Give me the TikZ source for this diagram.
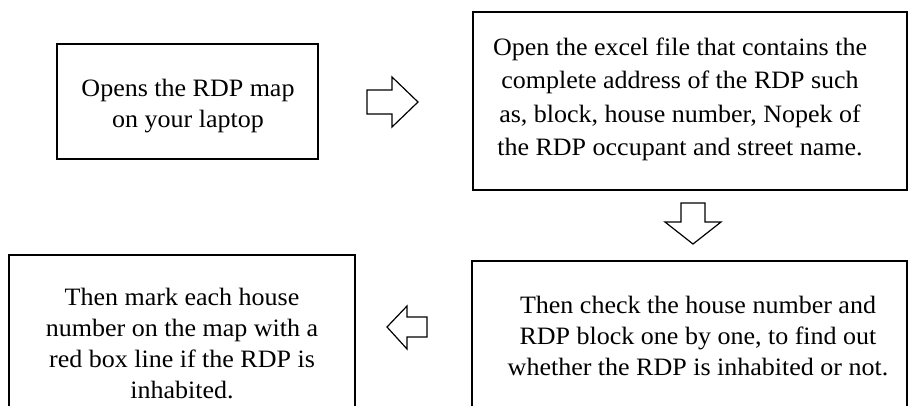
\documentclass[tikz,border=0pt]{standalone}
\usepackage{fontspec}
\setmainfont{Liberation Serif}[FakeStretch=1.04]
\begin{document}
\begin{tikzpicture}[x=1pt,y=-1pt,
  box/.style={draw,line width=1.3pt,inner sep=0pt,outer sep=0pt},
  txt/.style={align=center,inner sep=0pt,font=\fontsize{25}{31}\selectfont},
  blockarrow/.style={draw,line width=1.2pt,fill=white,line join=miter}]
\useasboundingbox (0,0) rectangle (909,405);
\clip (0,0) rectangle (909,405);
% boxes
\node[box,minimum width=261pt,minimum height=115pt] (b1) at (187.5,101.5) {};
\node[box,minimum width=434pt,minimum height=178pt] (b2) at (690,101) {};
\node[box,minimum width=346pt,minimum height=175pt] (b3) at (182,342.5) {};
\node[box,minimum width=435pt,minimum height=169pt] (b4) at (689.5,345.5) {};
% texts
\node[txt] (t1) at (188,106) {Opens the RDP map\\on your laptop};
\node[txt,font=\fontsize{25}{33.3}\selectfont] (t2) at (680,99.5) {Open the excel file that contains the\\complete address of the RDP such\\as, block, house number, Nopek of\\the RDP occupant and street name.};
\node[txt] (t3) at (182,343) {Then mark each house\\number on the map with a\\red box line if the RDP is\\inhabited.};
\node[txt] (t4) at (698,336) {Then check the house number and\\RDP block one by one, to find out\\whether the RDP is inhabited or not.};
% block arrows
\draw[blockarrow] (367,90) -- (392,90) -- (392,77) -- (418,102) -- (392,127) -- (392,114) -- (367,114) -- cycle;
\draw[blockarrow] (681,203) -- (705,203) -- (705,222) -- (721,222) -- (693,244) -- (665,222) -- (681,222) -- cycle;
\draw[blockarrow] (387,327) -- (407,306) -- (407,317) -- (427,317) -- (427,337) -- (407,337) -- (407,349) -- cycle;
\end{tikzpicture}
\end{document}
